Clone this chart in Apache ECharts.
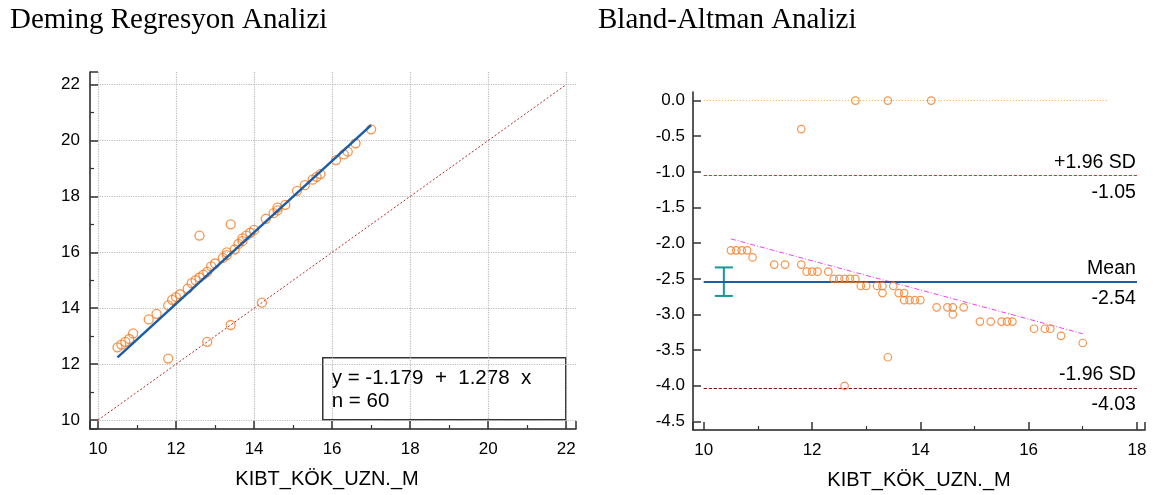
<!DOCTYPE html>
<html><head><meta charset="utf-8">
<script src="https://cdn.jsdelivr.net/npm/echarts@6/dist/echarts.min.js"></script>
<style>html,body{margin:0;padding:0;background:#fff}#c{width:1157px;height:495px}</style>
</head><body><div id="c"></div>
<script>
// ---- data ----
const methodX = [10.5,10.6,10.7,10.8,10.9,11.3,11.5,11.8,11.8,11.9,12.0,12.1,12.3,12.4,12.5,12.6,12.6,12.7,12.8,12.8,
  12.9,13.0,13.2,13.3,13.3,13.4,13.4,13.5,13.6,13.7,13.7,13.8,13.9,14.0,14.2,14.3,14.5,14.6,14.6,14.8,
  15.1,15.3,15.5,15.6,15.7,16.1,16.3,16.4,16.6,17.0];
const methodY = [12.6,12.7,12.8,12.9,13.1,13.6,13.8,14.1,12.2,14.3,14.4,14.5,14.7,14.9,15.0,15.1,16.6,15.2,15.3,12.8,
  15.5,15.6,15.8,15.9,16.0,13.4,17.0,16.1,16.3,16.4,16.5,16.6,16.7,16.8,14.2,17.2,17.4,17.5,17.6,17.7,
  18.2,18.4,18.6,18.7,18.8,19.3,19.5,19.6,19.9,20.4];
const diffs = [-2.1,-2.1,-2.1,-2.1,-2.2,-2.3,-2.3,-2.3,-0.4,-2.4,-2.4,-2.4,-2.4,-2.5,-2.5,-2.5,-4.0,-2.5,-2.5,0.0,
  -2.6,-2.6,-2.6,-2.6,-2.7,0.0,-3.6,-2.6,-2.7,-2.7,-2.8,-2.8,-2.8,-2.8,0.0,-2.9,-2.9,-2.9,-3.0,-2.9,
  -3.1,-3.1,-3.1,-3.1,-3.1,-3.2,-3.2,-3.2,-3.3,-3.4];
const demingA = -1.179, demingB = 1.278, nCount = 60;
const meanDiff = -2.54, upperLoA = -1.05, lowerLoA = -4.03;
const meanCI = [10.37, -2.34, -2.74];
const baTrendStart = [10.5, -1.94], baTrendEnd = [17.0, -3.27];
const zeroLineEnd = 17.45;
const leftXTicks = [10, 22], leftYTicks = [10, 22];
const rightXTicks = [10, 18];

const xMin = Math.min(...methodX), xMax = Math.max(...methodX);
const ORANGE = '#f47a20';
const F = 'Liberation Sans, Arial, sans-serif';
const SERIF = 'Liberation Serif, Times New Roman, serif';

function axisBase(extra) {
  return Object.assign({
    type: 'value',
    axisLine: {show: true, onZero: false, lineStyle: {color: '#222', width: 1.5}},
    axisTick: {show: true, inside: true, length: 8, lineStyle: {color: '#333', width: 1.5}},
  }, extra);
}

function refLine(y, color, width, type, topText, bottomText) {
  const lbl = {show: true, color: '#000', fontFamily: F, fontSize: 19.5};
  return {type: 'line', xAxisIndex: 1, yAxisIndex: 1, data: [], symbol: 'none', z: 2,
    markLine: {silent: true, symbol: 'none', animation: false,
      lineStyle: {color: color, width: width, type: type},
      data: [
        [{coord: [rightXTicks[0], y], label: Object.assign({position: 'insideEndTop', distance: [1, 3], formatter: topText}, lbl)}, {coord: [rightXTicks[1], y]}],
        [{coord: [rightXTicks[0], y], label: Object.assign({position: 'insideEndBottom', distance: [1, 7], formatter: bottomText}, lbl)}, {coord: [rightXTicks[1], y]}]
      ]}};
}

const opt = {
  animation: false,
  title: [
    {text: 'Deming Regresyon Analizi', left: 5, top: 1, textStyle: {fontFamily: SERIF, fontWeight: 'normal', fontSize: 29, color: '#000'}},
    {text: 'Bland-Altman Analizi', left: 593, top: 1, textStyle: {fontFamily: SERIF, fontWeight: 'normal', fontSize: 29, color: '#000'}}
  ],
  grid: [
    {left: 90, top: 72, width: 486, height: 357},
    {left: 693, top: 92, width: 452, height: 340}
  ],
  xAxis: [
    axisBase({gridIndex: 0, min: 9.795, max: 22.25, splitNumber: 6,
      name: 'KIBT_KÖK_UZN._M', nameLocation: 'middle', nameGap: 40,
      nameTextStyle: {color: '#000', fontFamily: F, fontSize: 20, padding: [0, 12, 0, 0]},
      axisLabel: {color: '#000', fontFamily: F, fontSize: 17, margin: 12, showMinLabel: false, showMaxLabel: false},
      minorTick: {show: true, splitNumber: 2, length: 4, lineStyle: {color: '#333', width: 1.2}},
      splitLine: {show: true, showMinLine: false, showMaxLine: false, lineStyle: {color: '#bbb', type: 'dotted', width: 1.2}}}),
    axisBase({gridIndex: 1, min: 9.8, max: 18.15, splitNumber: 4,
      name: 'KIBT_KÖK_UZN._M', nameLocation: 'middle', nameGap: 40,
      nameTextStyle: {color: '#000', fontFamily: F, fontSize: 20},
      axisLabel: {color: '#000', fontFamily: F, fontSize: 17, margin: 12, showMinLabel: false, showMaxLabel: false},
      minorTick: {show: true, splitNumber: 2, length: 4, lineStyle: {color: '#333', width: 1.2}},
      splitLine: {show: false}})
  ],
  yAxis: [
    axisBase({gridIndex: 0, min: 9.68, max: 22.45, splitNumber: 6,
      axisLabel: {color: '#000', fontFamily: F, fontSize: 17, margin: 10, showMinLabel: false, showMaxLabel: false},
      minorTick: {show: true, splitNumber: 2, length: 4, lineStyle: {color: '#333', width: 1.2}},
      splitLine: {show: true, showMinLine: false, showMaxLine: false, lineStyle: {color: '#bbb', type: 'dotted', width: 1.2}}}),
    axisBase({gridIndex: 1, min: -4.62, max: 0.12, splitNumber: 10,
      axisLabel: {color: '#000', fontFamily: F, fontSize: 17, margin: 8, showMinLabel: false, showMaxLabel: false,
        formatter: v => v.toFixed(1)},
      splitLine: {show: false}})
  ],
  series: [
    {type: 'line', xAxisIndex: 0, yAxisIndex: 0, data: [[leftXTicks[0], leftYTicks[0]], [leftXTicks[1], leftYTicks[1]]],
      symbol: 'none', lineStyle: {color: '#b22a2a', width: 1, type: [2, 2]}, z: 2},
    {type: 'line', xAxisIndex: 0, yAxisIndex: 0, data: [[xMin, demingA + demingB * xMin], [xMax, demingA + demingB * xMax]],
      symbol: 'none', lineStyle: {color: '#1a5ea8', width: 2.5}, z: 4},
    {type: 'scatter', xAxisIndex: 0, yAxisIndex: 0, data: methodX.map((x, i) => [x, methodY[i]]),
      symbol: 'circle', symbolSize: 9, itemStyle: {color: 'rgba(0,0,0,0)', borderColor: ORANGE, borderWidth: 1.3}, z: 3},

    {type: 'line', xAxisIndex: 1, yAxisIndex: 1, data: [[rightXTicks[0], 0], [zeroLineEnd, 0]],
      symbol: 'none', lineStyle: {color: '#f7a050', width: 1, type: [1, 2]}, z: 2},
    refLine(upperLoA, '#c83a3a', 1.2, [3, 2], '+1.96 SD', upperLoA.toFixed(2)),
    refLine(meanDiff, '#1a5ea8', 2, 'solid', 'Mean', meanDiff.toFixed(2)),
    refLine(lowerLoA, '#8b1010', 1, [3, 2], '-1.96 SD', lowerLoA.toFixed(2)),
    {type: 'line', xAxisIndex: 1, yAxisIndex: 1, data: [baTrendStart, baTrendEnd],
      symbol: 'none', lineStyle: {color: '#f040f0', width: 1, type: [5, 2, 1, 2]}, z: 3},
    {type: 'custom', xAxisIndex: 1, yAxisIndex: 1, data: [meanCI], z: 4,
      renderItem: function (params, api) {
        const x = api.value(0);
        const p1 = api.coord([x, api.value(1)]);
        const p2 = api.coord([x, api.value(2)]);
        const w = 9;
        const st = {stroke: '#15999a', lineWidth: 2};
        return {type: 'group', children: [
          {type: 'line', shape: {x1: p1[0], y1: p1[1], x2: p2[0], y2: p2[1]}, style: st},
          {type: 'line', shape: {x1: p1[0] - w, y1: p1[1], x2: p1[0] + w, y2: p1[1]}, style: st},
          {type: 'line', shape: {x1: p2[0] - w, y1: p2[1], x2: p2[0] + w, y2: p2[1]}, style: st}
        ]};
      }},
    {type: 'scatter', xAxisIndex: 1, yAxisIndex: 1, data: methodX.map((x, i) => [x, diffs[i]]),
      symbol: 'circle', symbolSize: 7.5, itemStyle: {color: 'rgba(0,0,0,0)', borderColor: ORANGE, borderWidth: 1.2}, z: 5}
  ],
  graphic: [
    {type: 'group', left: 322, top: 357, z: 100, children: [
      {type: 'rect', shape: {x: 0, y: 0, width: 243, height: 62}, style: {fill: '#fff', stroke: '#333', lineWidth: 1.5}},
      {type: 'text', x: 9, y: 21, style: {text: 'y = ' + demingA.toFixed(3) + '  +  ' + demingB.toFixed(3) + '  x', font: '20.5px ' + F, fill: '#000', textVerticalAlign: 'middle'}},
      {type: 'text', x: 9, y: 44, style: {text: 'n = ' + nCount, font: '20.5px ' + F, fill: '#000', textVerticalAlign: 'middle'}}
    ]}
  ]
};
const chart = echarts.init(document.getElementById('c'), null, {renderer: 'canvas'});
chart.setOption(opt);
</script>
</body></html>
